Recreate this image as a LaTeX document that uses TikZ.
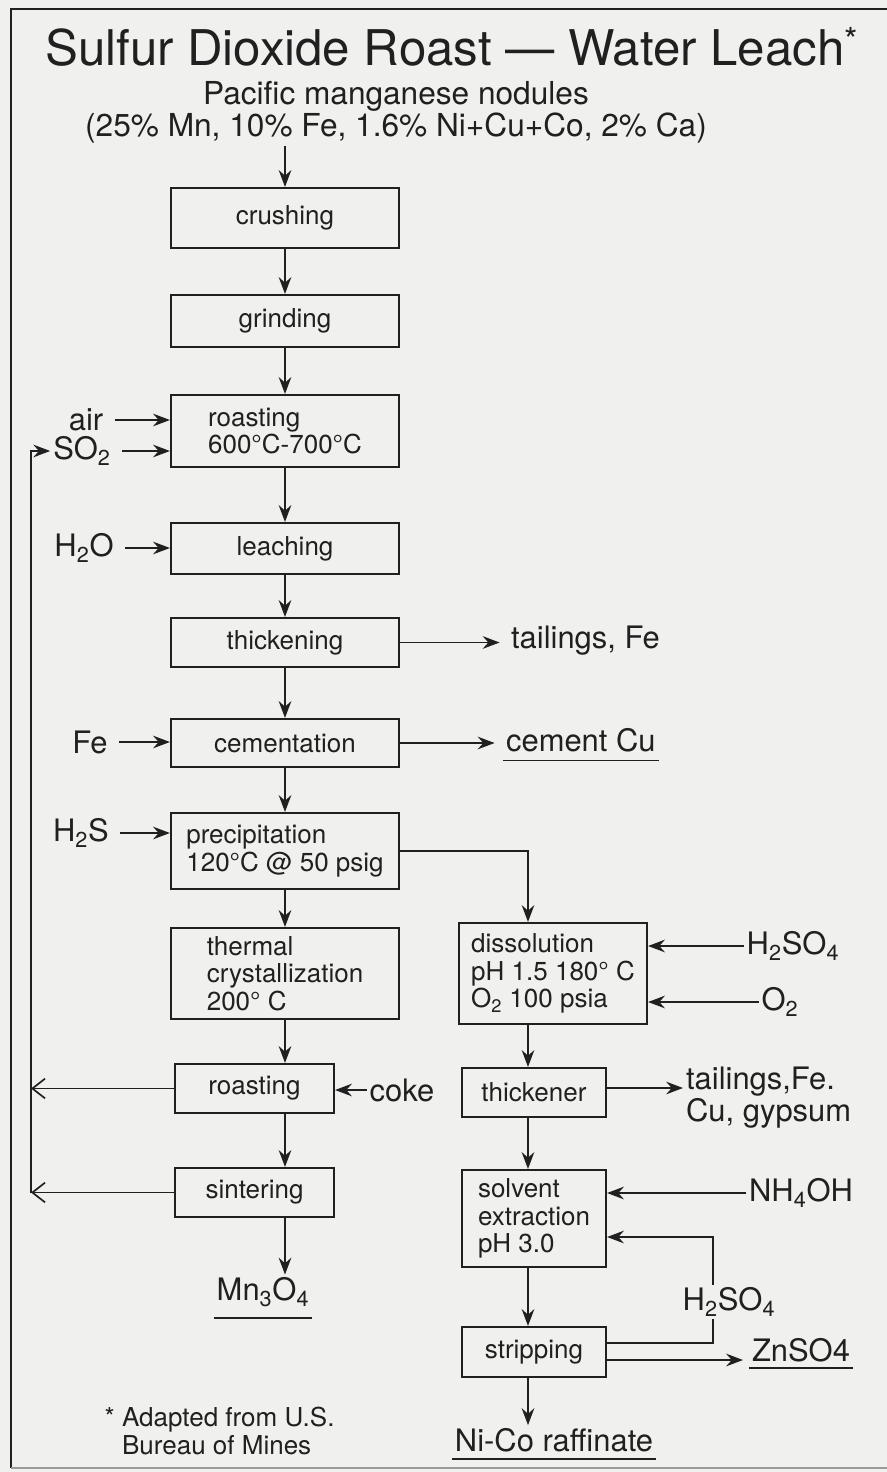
\documentclass[tikz,border=0pt]{standalone}
\usepackage{fontspec}
\setmainfont{TeX Gyre Heros}
\usetikzlibrary{arrows.meta}

\definecolor{ink}{RGB}{32,32,32}
\definecolor{paper}{RGB}{240,240,238}
\newcommand{\boxfont}{\fontsize{18.5}{19.5}\selectfont}
\newcommand{\lblfont}{\fontsize{22}{22.7}\selectfont}

\tikzset{
  box/.style={draw=ink, line width=1.5pt, text=ink, align=left, font=\boxfont, inner sep=0pt},
  mainbox/.style={box, minimum width=5.7cm},
  rbox/.style={box, minimum width=3.6cm},
  lbl/.style={font=\lblfont, text=ink, inner sep=2pt},
  flow/.style={draw=ink, line width=1pt, -{Stealth[length=12pt,width=9pt,inset=4pt]}},
  feed/.style={flow, shorten <=6pt},
  back/.style={draw=ink, line width=1pt, -{Straight Barb[length=9pt,width=14pt,line width=1.2pt]}},
  uline/.style={draw=ink, line width=1.2pt},
}

\begin{document}
\begin{tikzpicture}[x=0.025cm, y=-0.025cm]
  \useasboundingbox (0,0) rectangle (887,1472);
  \fill[paper] (0,0) rectangle (887,1472);
  % frame of the page
  \draw[ink, line width=1.2pt] (887,9) -- (11,9) -- (11,1468);
  \draw[ink!45, line width=0.8pt] (11,1468) -- (887,1468);

  % title and feed
  \node[text=ink, font=\fontsize{35}{40}\selectfont] (title) at (452,47)
    {Sulfur Dioxide Roast — Water Leach\textsuperscript{*}};
  \node[lbl, align=center, font=\fontsize{22.5}{21.5}\selectfont] (feedin) at (396,112)
    {Pacific manganese nodules\\(25\% Mn, 10\% Fe, 1.6\% Ni+Cu+Co, 2\% Ca)};

  % main column
  \node[mainbox, minimum height=1.5cm]   (crush)   at (285,218)   {crushing};
  \node[mainbox, minimum height=1.3cm]   (grind)   at (285,321)   {grinding};
  \node[mainbox, minimum height=1.8cm]   (roast)   at (285,431)   {roasting\\600°C-700°C};
  \node[mainbox, minimum height=1.275cm] (leach)   at (285,548.5) {leaching};
  \node[mainbox, minimum height=1.225cm] (thick)   at (285,642.5) {thickening};
  \node[mainbox, minimum height=1.2cm]   (cement)  at (285,743)   {cementation};
  \node[mainbox, minimum height=1.9cm]   (precip)  at (285,851)   {precipitation\\120°C @ 50 psig};
  \node[mainbox, minimum height=2.275cm] (thermal) at (285,973.5) {thermal\\crystallization\\200° C};
  \node[box, minimum width=3.975cm, minimum height=1.225cm] (roast2) at (254.5,1088.5) {roasting};
  \node[box, minimum width=3.975cm, minimum height=1.225cm] (sinter) at (254.5,1192.5) {sintering};
  \node[lbl] (mn) at (263,1292) {Mn\textsubscript{3}O\textsubscript{4}};

  % right column
  \node[box, minimum width=4.7cm, minimum height=2.525cm] (dissol) at (553,973.5)
    {dissolution\\pH 1.5 180° C\\O\textsubscript{2} 100 psia};
  \node[rbox, minimum height=1.225cm] (thickener) at (534,1092.5) {thickener};
  \node[rbox, minimum height=2.425cm] (solvx) at (534,1218.5) {solvent\\extraction\\pH 3.0};
  \node[rbox, minimum height=1.25cm]  (strip) at (534,1352) {stripping};
  \node[lbl] (raff) at (554,1440) {Ni-Co raffinate};

  % side streams
  \node[lbl] (air)   at (86,420)  {air};
  \node[lbl] (so2)   at (82,451)  {SO\textsubscript{2}};
  \node[lbl] (water) at (84,548)  {H\textsubscript{2}O};
  \node[lbl] (iron)  at (90,742)  {Fe};
  \node[lbl] (hs)    at (81,833)  {H\textsubscript{2}S};
  \node[lbl] (coke)  at (402,1090) {coke};
  \node[lbl, anchor=west] (tail1) at (508,641) {tailings, Fe};
  \node[lbl, anchor=west] (cucem) at (503,740) {cement Cu};
  \node[lbl] (acid1) at (793,946)  {H\textsubscript{2}SO\textsubscript{4}};
  \node[lbl] (oxy)   at (780,1002) {O\textsubscript{2}};
  \node[lbl, anchor=north west, align=left] (tail2) at (683,1064) {tailings,Fe.\\Cu, gypsum};
  \node[lbl] (nh)    at (801,1193) {NH\textsubscript{4}OH};
  \node[lbl] (acid2) at (729,1302) {H\textsubscript{2}SO\textsubscript{4}};
  \node[lbl] (zn)    at (801,1350) {ZnSO4};
  \node[lbl, font=\boxfont, anchor=west, align=left] (note) at (119,1431)
    {\llap{* }Adapted from U.S.\\Bureau of Mines};

  \coordinate (rcol)  at (528,851);
  \coordinate (rec)   at (31,451);
  \coordinate (loopA) at (713,1343);
  \coordinate (loopB) at (713,1237);
  \coordinate (znin)  at (743,1360);

  % main flow
  \draw[flow] (feedin.south -| crush) -- (crush);
  \foreach \a/\b in {crush/grind, grind/roast, roast/leach, leach/thick,
                     thick/cement, cement/precip, precip/thermal}
    \draw[flow] (\a) -- (\b);
  \draw[flow] (thermal.south) -- (roast2.north -| thermal.south);
  \draw[flow] (roast2.south -| thermal.south) -- (sinter.north -| thermal.south);
  \draw[flow] (sinter.south -| thermal.south) -- (mn.north -| thermal.south);

  % inputs on the left
  \foreach \s/\t in {air/roast, so2/roast, water/leach, iron/cement, hs/precip}
    \draw[feed] (\s) -- (\s -| \t.west);
  \draw[flow] (coke) -- (coke -| roast2.east);

  % products on the right
  \draw[flow, shorten >=6pt] (thick.east) -- (thick.east -| tail1.west);
  \draw[flow, shorten >=6pt] (cement.east) -- (cement.east -| cucem.west);
  \draw[uline] ([yshift=-4pt]cucem.south west) -- ([yshift=-4pt]cucem.south east);

  % SO2 recycle
  \draw[back] (roast2.west) -- (roast2.west -| rec);
  \draw[back] (sinter.west) -- (sinter.west -| rec);
  \draw[flow] (sinter.west -| rec) -- (rec) -- (so2.west);
  \draw[uline] ([yshift=-6pt]mn.south west) -- ([yshift=-6pt]mn.south east);

  % nickel-cobalt branch
  \draw[flow] (precip.east) -- (rcol) -- (dissol.north -| rcol);
  \draw[flow] (dissol.south -| rcol) -- (thickener.north -| rcol);
  \draw[flow] (thickener.south -| rcol) -- (solvx.north -| rcol);
  \draw[flow] (solvx.south -| rcol) -- (strip.north -| rcol);
  \draw[flow] (strip.south -| rcol) -- (raff.north -| rcol);
  \draw[uline] ([yshift=-3pt]raff.south west) -- ([yshift=-3pt]raff.south east);

  \draw[flow] (acid1) -- (acid1 -| dissol.east);
  \draw[flow] (oxy) -- (oxy -| dissol.east);
  \draw[flow] (thickener.east |- 0,1088) -- (thickener.east |- 0,1088 -| tail2.west);
  \draw[flow] (nh) -- (nh -| solvx.east);

  % acid return from stripping
  \draw[ink, line width=1pt] (strip.east |- loopA) -- (loopA) -- (loopA |- acid2.south);
  \draw[flow] (loopA |- acid2.north) -- (loopB) -- (loopB -| solvx.east);
  \draw[flow] (strip.east |- znin) -- (znin);
  \draw[uline] ([yshift=-2pt]zn.south west) -- ([yshift=-2pt]zn.south east);
\end{tikzpicture}
\end{document}
